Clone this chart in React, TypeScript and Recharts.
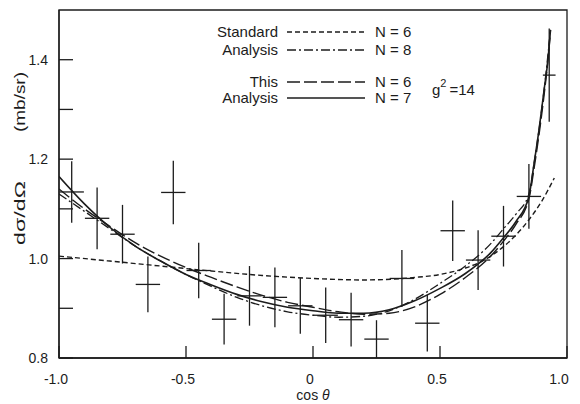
import React from 'react';
import { ComposedChart, Line, Scatter, ErrorBar, XAxis, YAxis, ReferenceArea } from 'recharts';

// ---- data ----
const curveX = [-1, -0.9, -0.8, -0.7, -0.6, -0.5, -0.4, -0.3, -0.2, -0.1, 0, 0.1, 0.2, 0.3, 0.4, 0.5, 0.6, 0.7, 0.75, 0.8, 0.85, 0.87, 0.89, 0.91, 0.925, 0.935];
const thisN7 = [1.165, 1.11, 1.063, 1.025, 0.995, 0.968, 0.947, 0.928, 0.913, 0.902, 0.895, 0.89, 0.89, 0.897, 0.915, 0.94, 0.97, 1.012, 1.042, 1.075, 1.125, 1.19, 1.26, 1.34, 1.4, 1.46];
const thisN6 = [1.14, 1.1, 1.065, 1.032, 1.005, 0.982, 0.962, 0.943, 0.926, 0.912, 0.902, 0.893, 0.888, 0.89, 0.903, 0.928, 0.962, 1.005, 1.035, 1.07, 1.12, 1.18, 1.25, 1.33, 1.4, 1.46];
const stdN8 = [1.13, 1.095, 1.06, 1.025, 0.995, 0.968, 0.944, 0.922, 0.905, 0.893, 0.886, 0.882, 0.884, 0.895, 0.918, 0.95, 0.985, 1.03, 1.06, 1.09, 1.13, 1.19, 1.26, 1.34, 1.41, 1.46];

const stdN6X = [-1, -0.8, -0.6, -0.4, -0.2, 0, 0.2, 0.4, 0.5, 0.6, 0.65, 0.7, 0.75, 0.8, 0.85, 0.9, 0.95];
const stdN6 = [1.005, 0.995, 0.985, 0.975, 0.966, 0.96, 0.957, 0.962, 0.968, 0.981, 0.991, 1.005, 1.024, 1.048, 1.078, 1.115, 1.162];

const pointX = [-0.95, -0.85, -0.75, -0.65, -0.55, -0.45, -0.35, -0.25, -0.15, -0.05, 0.05, 0.15, 0.25, 0.35, 0.45, 0.55, 0.65, 0.75, 0.85, 0.93];
const pointY = [1.134, 1.081, 1.049, 0.948, 1.133, 0.976, 0.878, 0.925, 0.922, 0.905, 0.886, 0.877, 0.838, 0.96, 0.87, 1.056, 0.997, 1.045, 1.125, 1.369];
const pointErrY = [0.062, 0.062, 0.059, 0.056, 0.064, 0.056, 0.051, 0.06, 0.06, 0.056, 0.056, 0.054, 0.038, 0.057, 0.057, 0.061, 0.06, 0.061, 0.065, 0.094];
const pointErrX = [0.048, 0.048, 0.048, 0.048, 0.048, 0.048, 0.048, 0.048, 0.048, 0.048, 0.048, 0.048, 0.048, 0.048, 0.048, 0.048, 0.048, 0.048, 0.048, 0.025];

const xTicks = [-1, -0.5, 0, 0.5, 1];
const xTickLabels = ['-1.0', '-0.5', '0', '0.5', '1.0'];
const yTicks = [0.8, 0.9, 1.0, 1.1, 1.2, 1.3, 1.4];
const yTickLabels = ['0.8', '', '1.0', '', '1.2', '', '1.4'];

const mk = (xs: number[], ys: number[]) => xs.map((x, i) => ({ x, y: ys[i] }));
const curveN7 = mk(curveX, thisN7);
const curveN6 = mk(curveX, thisN6);
const curveStd8 = mk(curveX, stdN8);
const curveStd6 = mk(stdN6X, stdN6);
const points = pointX.map((x, i) => ({ x, y: pointY[i], ex: pointErrX[i], ey: pointErrY[i] }));

const INK = '#1c1c1c';
const FONT = '"Liberation Sans", Arial, Helvetica, sans-serif';

const XTick = (props: any) => {
  const { x, y, payload } = props;
  const idx = xTicks.findIndex((t) => Math.abs(t - payload.value) < 1e-6);
  const label = idx >= 0 ? xTickLabels[idx] : '';
  const dx = payload.value === 1 ? -8 : -3;
  return (
    <g>
      <line x1={x} x2={x} y1={y} y2={y - 12} stroke={INK} strokeWidth={1.3} />
      <text x={x + dx} y={y + 26} textAnchor="middle" fontSize={14} fill={INK} fontFamily={FONT}>{label}</text>
    </g>
  );
};

const YTick = (props: any) => {
  const { x, y, payload } = props;
  const idx = yTicks.findIndex((t) => Math.abs(t - payload.value) < 1e-6);
  const label = idx >= 0 ? yTickLabels[idx] : '';
  return (
    <g>
      <line x1={x} x2={x + 14} y1={y} y2={y} stroke={INK} strokeWidth={1.3} />
      <text x={x - 11} y={y + 5} textAnchor="end" fontSize={14} fill={INK} fontFamily={FONT}>{label}</text>
    </g>
  );
};

const legendRows = [
  { name: 'Standard', n: 'N = 6', dash: '5 3', ly: 32, ty: 37 },
  { name: 'Analysis', n: 'N = 8', dash: '9 3 2 3', ly: 50, ty: 55 },
  { name: 'This', n: 'N = 6', dash: '13 4', ly: 82, ty: 87 },
  { name: 'Analysis', n: 'N = 7', dash: '', ly: 98, ty: 103 },
];

export default function App() {
  return (
    <div style={{ position: 'absolute', left: 0, top: 0, width: 580, height: 404, background: '#fff' }}>
      <ComposedChart width={580} height={404} margin={{ top: 10, right: 13, bottom: 45, left: 58 }}>
        <XAxis
          type="number"
          dataKey="x"
          domain={[-1, 1]}
          ticks={xTicks}
          allowDataOverflow
          height={1}
          tickSize={0}
          tickMargin={0}
          tickLine={false}
          axisLine={{ stroke: INK, strokeWidth: 1.3 }}
          tick={XTick}
          interval={0}
        />
        <YAxis
          type="number"
          dataKey="y"
          domain={[0.8, 1.5]}
          ticks={yTicks}
          allowDataOverflow
          width={1}
          tickSize={0}
          tickMargin={0}
          tickLine={false}
          axisLine={{ stroke: INK, strokeWidth: 1.3 }}
          tick={YTick}
          interval={0}
        />
        <ReferenceArea x1={-1} x2={1} y1={0.8} y2={1.5} fill="none" stroke={INK} strokeWidth={1.3} />
        <Line data={curveStd6} dataKey="y" type="monotone" stroke={INK} strokeWidth={1.4} strokeDasharray="5 3" dot={false} isAnimationActive={false} />
        <Line data={curveStd8} dataKey="y" type="monotone" stroke={INK} strokeWidth={1.3} strokeDasharray="9 3 2 3" dot={false} isAnimationActive={false} />
        <Line data={curveN6} dataKey="y" type="monotone" stroke={INK} strokeWidth={1.4} strokeDasharray="13 4" dot={false} isAnimationActive={false} />
        <Line data={curveN7} dataKey="y" type="monotone" stroke={INK} strokeWidth={1.6} dot={false} isAnimationActive={false} />
        <Scatter data={points} dataKey="y" shape={() => <g />} isAnimationActive={false}>
          <ErrorBar dataKey="ey" direction="y" width={0} stroke={INK} strokeWidth={1.3} />
          <ErrorBar dataKey="ex" direction="x" width={0} stroke={INK} strokeWidth={1.3} />
        </Scatter>
      </ComposedChart>
      <svg width={580} height={404} style={{ position: 'absolute', left: 0, top: 0, pointerEvents: 'none' }}>
        <g fontFamily={FONT} fill={INK}>
          {legendRows.map((r, i) => (
            <g key={i}>
              <text x={278} y={r.ty} textAnchor="end" fontSize={15}>{r.name}</text>
              <line x1={287} x2={365} y1={r.ly} y2={r.ly} stroke={INK} strokeWidth={1.4} strokeDasharray={r.dash || undefined} />
              <text x={375} y={r.ty} fontSize={15}>{r.n}</text>
            </g>
          ))}
          <text x={432} y={95} fontSize={15}>
            g<tspan dy={-8} fontSize={11}>2</tspan>
            <tspan dy={8} dx={3}>=14</tspan>
          </text>
          <text x={313} y={400} textAnchor="middle" fontSize={14}>
            cos <tspan fontStyle="italic">θ</tspan>
          </text>
          <text x={20} y={213} textAnchor="middle" dy="0.35em" fontSize={15} transform="rotate(-90 20 213)" textLength={64} lengthAdjust="spacingAndGlyphs">dσ/dΩ</text>
          <text x={20} y={102} textAnchor="middle" dy="0.35em" fontSize={15} transform="rotate(-90 20 102)" textLength={60} lengthAdjust="spacingAndGlyphs">(mb/sr)</text>
        </g>
      </svg>
    </div>
  );
}
